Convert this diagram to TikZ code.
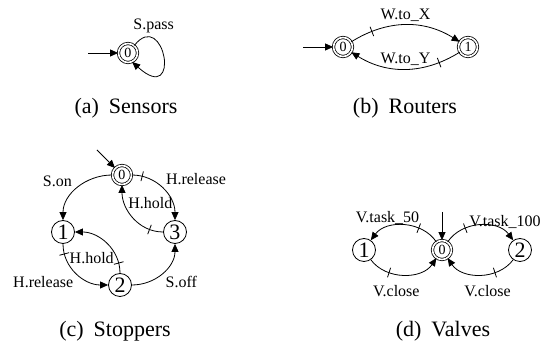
\documentclass[tikz,border=0pt]{standalone}
\usepackage{fontspec}
\setmainfont{Liberation Serif}
\usepackage{tikz}
\usetikzlibrary{arrows.meta, decorations.markings}
\tikzstyle{arrow} = [->,>={Triangle[length=4pt,width=3.5pt]}]
\tikzstyle{state} = [circle, draw, minimum size=11.5pt, inner sep=0pt, font=\fontsize{11}{11}\selectfont]
\tikzstyle{init} = [circle, draw, double, double distance=0.8pt, minimum size=9.5pt, inner sep=0pt, font=\fontsize{7}{7}\selectfont]
\tikzstyle{lbl} = [font=\fontsize{8}{9}\selectfont, inner sep=1.5pt]
\tikzstyle{caption} = [font=\fontsize{11}{12}\selectfont]

\begin{document}
\begin{tikzpicture}[x=0.5pt, y=0.5pt,
    uc/.style={postaction={decorate, decoration={markings, mark=at position #1 with {\draw[-] (0,-2.5pt) -- (0,2.5pt);}}}}]
    \useasboundingbox (0,0) rectangle (553,348);
    % (a) sensors
    \node[init] (s0) at (128,295) {0};
    \coordinate (s0in) at (88,295);
    \draw[arrow] (s0in) -- (s0);
    \draw[arrow] (s0.50) .. controls +(30,38) and +(50,-45) .. node[lbl, pos=.25, above=1pt] {S.pass} (s0.-65);
    \node[caption] (capa) at (126,240) {(a)\hspace{5pt}Sensors};
    % (b) routers
    \node[init] (r0) at (343,301) {0};
    \node[init] (r1) at (468,301) {1};
    \coordinate (r0in) at (303,301);
    \draw[arrow] (r0in) -- (r0);
    \draw[arrow, uc=.2] (r0) to[bend left=32] node[lbl, above] {W.to\_X} (r1);
    \draw[arrow, uc=.2] (r1) to[bend left=32] node[lbl, above] {W.to\_Y} (r0);
    \node[caption] (capb) at (405,240) {(b)\hspace{5pt}Routers};
    % (c) stoppers
    \node[init] (c0) at (122,173) {0};
    \node[state] (c1) at (63,116) {1};
    \node[state] (c2) at (120,63) {2};
    \node[state] (c3) at (175,116) {3};
    \coordinate (c0in) at (97,198);
    \draw[arrow] (c0in) -- (c0);
    \draw[arrow] (c0) to[out=180, in=90] node[lbl, pos=.55, above left] {S.on} (c1);
    \draw[arrow, uc=.15] (c0) to[out=0, in=90] node[lbl, pos=.5, above right] {H.release} (c3);
    \draw[arrow, uc=.2] (c3) to[out=180, in=-90] node[lbl, pos=.75, right] {H.hold} (c0);
    \draw[arrow, uc=.15] (c1) to[out=-90, in=180] node[lbl, pos=.5, below left] {H.release} (c2);
    \draw[arrow, uc=.15] (c2) to[out=90, in=0] node[lbl, pos=.22, left] {H.hold} (c1);
    \draw[arrow] (c2) to[out=0, in=-90] node[lbl, pos=.5, below right] {S.off} (c3);
    \node[caption] (capc) at (115,17) {(c)\hspace{5pt}Stoppers};
    % (d) valves
    \node[init] (v0) at (442,98) {0};
    \node[state] (v1) at (364,98) {1};
    \node[state] (v2) at (520,98) {2};
    \coordinate (v0in) at (442,136);
    \draw[arrow] (v0in) -- (v0);
    \draw[arrow, uc=.3] (v0) to[bend right=55] node[lbl, pos=.72, above] {V.task\_50} (v1);
    \draw[arrow, uc=.3] (v1) to[bend right=55] node[lbl, pos=.4, below=4pt] {V.close} (v0);
    \draw[arrow, uc=.3] (v0) to[bend left=55] node[lbl, pos=.85, above] {V.task\_100} (v2);
    \draw[arrow, uc=.3] (v2) to[bend left=55] node[lbl, pos=.4, below=4pt] {V.close} (v0);
    \node[caption] (capd) at (443,17) {(d)\hspace{5pt}Valves};
\end{tikzpicture}
\end{document}
